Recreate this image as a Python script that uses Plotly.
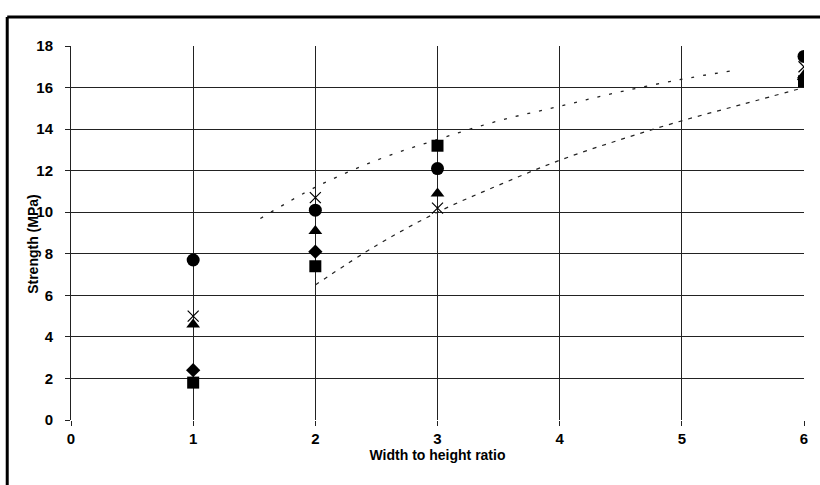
import plotly.graph_objects as go

# Measured strength for each width-to-height ratio, one list per specimen series
ratio = [1, 2, 3, 6]
series_circle = [7.7, 10.1, 12.1, 17.5]
series_cross = [5.0, 10.7, 10.2, 17.0]
series_triangle = [4.6, 9.1, 10.9, 16.6]
series_diamond = [2.4, 8.1, None, 16.4]
series_square = [1.8, 7.4, 13.2, 16.3]

# Trend curves traced through the chart
upper_x = [1.55, 2, 2.5, 3, 3.5, 4, 4.5, 5, 5.4]
upper_y = [9.7, 11.2, 12.5, 13.5, 14.4, 15.1, 15.8, 16.4, 16.8]
lower_x = [2, 2.5, 3, 3.5, 4, 4.5, 5, 5.5, 6]
lower_y = [6.5, 8.4, 10.0, 11.3, 12.5, 13.5, 14.4, 15.2, 16.0]

y_ticks = [0, 2, 4, 6, 8, 10, 12, 14, 16, 18]
x_ticks = [0, 1, 2, 3, 4, 5, 6]

fig = go.Figure()

fig.add_trace(go.Scatter(x=upper_x, y=upper_y, mode="lines",
                         line=dict(color="#222", width=1.3, dash="3px,9px", shape="spline"),
                         hoverinfo="skip", showlegend=False))
fig.add_trace(go.Scatter(x=lower_x, y=lower_y, mode="lines",
                         line=dict(color="#222", width=1.2, dash="4px,6px", shape="spline"),
                         hoverinfo="skip", showlegend=False))

marker_specs = [
    (series_square, "square", 12, None),
    (series_diamond, "diamond", 11, None),
    (series_triangle, "triangle-up", 12, None),
    (series_circle, "circle", 13, None),
    (series_cross, "x-thin-open", 11, 1.2),
]
for values, symbol, size, lw in marker_specs:
    m = dict(symbol=symbol, size=size, color="black")
    if lw is not None:
        m["line"] = dict(color="#333", width=lw)
    else:
        m["line"] = dict(width=0)
    fig.add_trace(go.Scatter(x=ratio, y=values, mode="markers", marker=m,
                             showlegend=False))

tick_font = dict(family="Liberation Sans, Arial, sans-serif", size=15, color="black")
title_font = dict(family="Liberation Sans, Arial, sans-serif", size=14, color="black")

fig.update_layout(
    width=820, height=485,
    margin=dict(l=71, r=13, t=46, b=65),
    paper_bgcolor="white", plot_bgcolor="white",
    showlegend=False,
    xaxis=dict(
        range=[0, 6], tickvals=x_ticks, ticktext=[f"<b>{v}</b>" for v in x_ticks],
        showgrid=True, gridcolor="#222", gridwidth=1,
        zeroline=False, showline=False,
        ticks="outside", ticklen=5, tickcolor="#222",
        tickfont=tick_font, ticklabelstandoff=0,
        title=dict(text="<b>Width to height ratio</b>", font=title_font, standoff=0),
    ),
    yaxis=dict(
        range=[0, 18], tickvals=y_ticks, ticktext=[f"<b>{v}</b>" for v in y_ticks],
        showgrid=True, gridcolor="#222", gridwidth=1,
        zeroline=False, showline=True, linecolor="#222", linewidth=1,
        ticks="outside", ticklen=5, tickcolor="#222",
        tickfont=tick_font, ticklabelstandoff=9,
    ),
    annotations=[
        dict(text="<b>Strength (MPa)</b>", font=title_font, textangle=-90,
             xref="paper", yref="paper", x=-0.051, y=0.47,
             xanchor="center", yanchor="middle", showarrow=False),
    ],
    shapes=[
        # heavy frame along the top and left edges
        dict(type="line", xref="paper", yref="paper", x0=-0.087, x1=1.03,
             y0=1.0775, y1=1.0775, line=dict(color="black", width=3)),
        dict(type="line", xref="paper", yref="paper", x0=-0.087, x1=-0.087,
             y0=1.0775, y1=-0.2, line=dict(color="black", width=3)),
    ],
)

fig.write_html("out.html")
